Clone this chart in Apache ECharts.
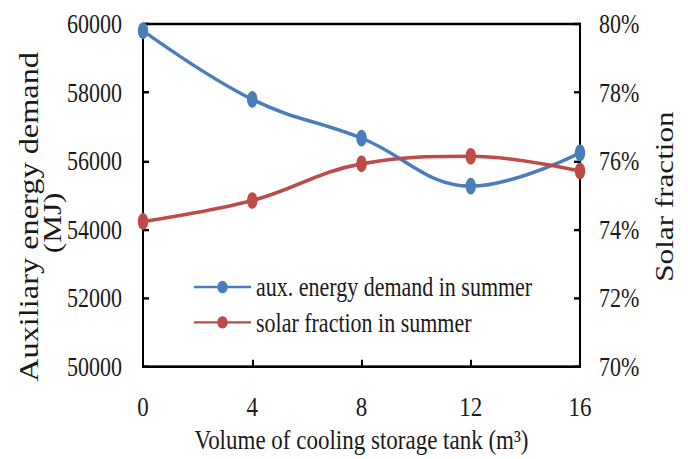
<!DOCTYPE html>
<html>
<head>
<meta charset="utf-8">
<script src="https://cdn.jsdelivr.net/npm/echarts@6/dist/echarts.min.js"></script>
<style>
  html, body { margin: 0; padding: 0; background: #fff; overflow: hidden; }
  #wrap { width: 688px; height: 459px; overflow: hidden; }
  /* chart is laid out at a reduced height and stretched vertically */
  #chart { width: 688px; height: 383px; transform: scaleY(1.19843); transform-origin: 0 0; }
</style>
</head>
<body>
<div id="wrap"><div id="chart"></div></div>
<script>
// Volume of cooling storage tank (m3)
const tankVolume = [0, 4, 8, 12, 16];
// Auxiliary energy demand in summer (MJ)
const auxDemand = [59800, 57800, 56670, 55270, 56240];
// Solar fraction in summer (%)
const solarFraction = [74.24, 74.85, 75.92, 76.14, 75.71];

const seriesNames = ['aux. energy demand in summer', 'solar fraction in summer'];
const xTitle = 'Volume of cooling storage tank (m\u00B3)';
const leftTitle = ['Auxiliary energy demand', '(MJ)'];
const rightTitle = 'Solar fraction';

const FONT = "'Liberation Serif', 'Times New Roman', serif";
const TXT = '#1a1a1a';
const BLUE = '#4a7ebb';
const RED = '#be4b48';

const chart = echarts.init(document.getElementById('chart'), null, { renderer: 'svg' });

const axisLine = { show: true, lineStyle: { color: '#000', width: 2 } };
const axisTick = { show: true, inside: true, length: 6, lineStyle: { color: '#000', width: 2 } };

chart.setOption({
  backgroundColor: '#fff',
  animation: false,
  grid: {
    left: 143, right: 108, top: 20, bottom: 74.3,
    show: true, borderColor: '#000', borderWidth: 2, backgroundColor: 'transparent'
  },
  legend: {
    orient: 'vertical',
    left: 193, top: 228.5, padding: 0,
    itemWidth: 57, itemHeight: 13, itemGap: 7.5,
    textStyle: { fontFamily: FONT, fontSize: 22, color: TXT, lineHeight: 22 },
    data: seriesNames
  },
  xAxis: {
    type: 'value', min: 0, max: 16, interval: 4,
    axisLine, axisTick, splitLine: { show: false },
    axisLabel: { fontFamily: FONT, fontSize: 23, color: TXT, margin: 21 },
    name: xTitle, nameLocation: 'middle', nameGap: 45,
    nameTextStyle: { fontFamily: FONT, fontSize: 23, color: TXT }
  },
  yAxis: [
    {
      type: 'value', min: 50000, max: 60000, interval: 2000, position: 'left',
      axisLine, axisTick, splitLine: { show: false },
      axisLabel: { fontFamily: FONT, fontSize: 22, color: TXT, margin: 21, formatter: v => String(v) }
    },
    {
      type: 'value', min: 70, max: 80, interval: 2, position: 'right',
      axisLine, axisTick, splitLine: { show: false },
      axisLabel: { fontFamily: FONT, fontSize: 22, color: TXT, margin: 19, formatter: '{value}%' }
    }
  ],
  graphic: [
    {
      type: 'text', x: 28, y: 181, rotation: Math.PI / 2,
      style: { text: leftTitle[0], font: '27px ' + FONT, fill: TXT, align: 'center', verticalAlign: 'middle' }
    },
    {
      type: 'text', x: 52, y: 186, rotation: Math.PI / 2,
      style: { text: leftTitle[1], font: '26px ' + FONT, fill: TXT, align: 'center', verticalAlign: 'middle' }
    },
    {
      type: 'text', x: 664, y: 164, rotation: Math.PI / 2,
      style: { text: rightTitle, font: '26px ' + FONT, fill: TXT, align: 'center', verticalAlign: 'middle' }
    }
  ],
  series: [
    {
      name: seriesNames[0], type: 'line', yAxisIndex: 0, smooth: 0.4,
      symbol: 'circle', symbolSize: [10.5, 14],
      lineStyle: { color: BLUE, width: 3 }, itemStyle: { color: BLUE },
      data: tankVolume.map((v, i) => [v, auxDemand[i]])
    },
    {
      name: seriesNames[1], type: 'line', yAxisIndex: 1, smooth: 0.4,
      symbol: 'circle', symbolSize: [10.5, 14],
      lineStyle: { color: RED, width: 3 }, itemStyle: { color: RED },
      data: tankVolume.map((v, i) => [v, solarFraction[i]])
    }
  ]
});
</script>
</body>
</html>
